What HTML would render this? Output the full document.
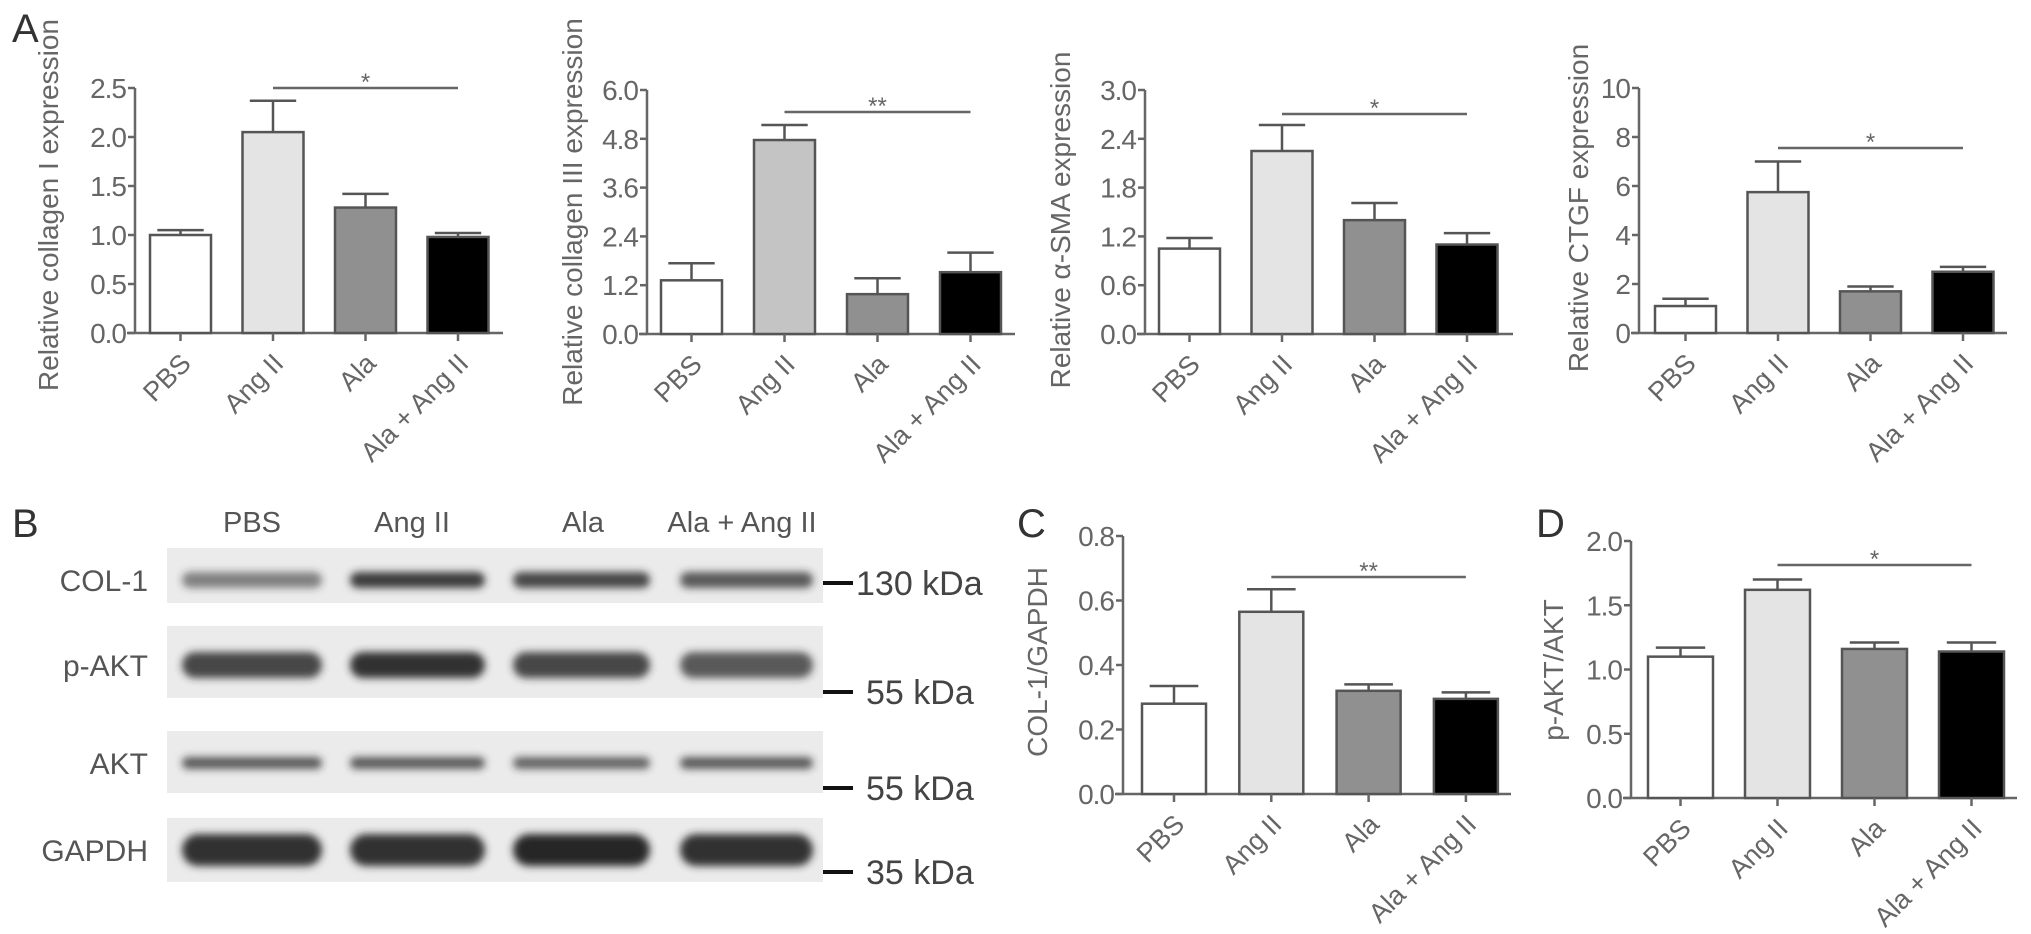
<!DOCTYPE html>
<html><head><meta charset="utf-8"><style>
html,body{margin:0;padding:0;background:#fff;}
svg{display:block;font-family:"Liberation Sans",Arial,sans-serif;}
</style></head><body>
<svg id="fig" width="2031" height="934" viewBox="0 0 2031 934" xmlns="http://www.w3.org/2000/svg">
<defs>
<filter id="blur" x="-20%" y="-80%" width="140%" height="260%"><feGaussianBlur stdDeviation="4"/></filter>
</defs>
<text x="12" y="42" font-size="40" fill="#333">A</text>
<text x="12" y="537" font-size="40" fill="#333">B</text>
<text x="1017" y="537" font-size="40" fill="#333">C</text>
<text x="1536" y="537" font-size="40" fill="#333">D</text>
<g id="blot"></g>
</svg>
<script>
const categories = ["PBS", "Ang II", "Ala", "Ala + Ang II"];
const col1Values = [1.0, 2.05, 1.28, 0.98];
const col1Errors = [0.05, 0.32, 0.14, 0.04];
const col1Ticks = ["0.0","0.5","1.0","1.5","2.0","2.5"];
const col3Values = [1.32, 4.77, 0.98, 1.52];
const col3Errors = [0.42, 0.37, 0.39, 0.48];
const col3Ticks = ["0.0","1.2","2.4","3.6","4.8","6.0"];
const smaValues = [1.05, 2.25, 1.40, 1.10];
const smaErrors = [0.13, 0.32, 0.21, 0.14];
const smaTicks = ["0.0","0.6","1.2","1.8","2.4","3.0"];
const ctgfValues = [1.1, 5.75, 1.7, 2.5];
const ctgfErrors = [0.3, 1.25, 0.2, 0.2];
const ctgfTicks = ["0","2","4","6","8","10"];
const cValues = [0.28, 0.565, 0.32, 0.295];
const cErrors = [0.055, 0.07, 0.02, 0.02];
const cTicks = ["0.0","0.2","0.4","0.6","0.8"];
const dValues = [1.10, 1.62, 1.16, 1.14];
const dErrors = [0.07, 0.08, 0.05, 0.07];
const dTicks = ["0.0","0.5","1.0","1.5","2.0"];
const blotRows = ["COL-1", "p-AKT", "AKT", "GAPDH"];
const kdaLabels = ["130 kDa", "55 kDa", "55 kDa", "35 kDa"];

const NS = "http://www.w3.org/2000/svg";
const svg = document.getElementById("fig");
function el(tag, attrs, parent, text){
  const e = document.createElementNS(NS, tag);
  for (const k in attrs) e.setAttribute(k, attrs[k]);
  if (text !== undefined) e.textContent = text;
  (parent || svg).appendChild(e);
  return e;
}
const fills = ["#ffffff", "#e4e4e4", "#909090", "#000000"];
const GRAY = "#666";

function chart(o){
  const g = el("g", {}, svg);
  
  
  const max = parseFloat(o.ticks[o.ticks.length-1]);
  const y = v => o.y0 - (v / max) * (o.y0 - o.yTop);
  const cx = i => o.x0 + o.first + o.bw/2 + i*o.step;
  const ya = el("line", {x1:o.x0, y1:o.y0, x2:o.x0, y2:o.yTop, stroke:GRAY, "stroke-width":2.5}, g);
  
  
  const xa = el("line", {x1:o.x0-8, y1:o.y0, x2:o.x0+o.xLen, y2:o.y0, stroke:GRAY, "stroke-width":2.5}, g);
  
  
  o.ticks.forEach(t => {
    const v = parseFloat(t), yy = y(v);
    el("line", {x1:o.x0-7, y1:yy, x2:o.x0, y2:yy, stroke:GRAY, "stroke-width":2.5}, g);
    const tl = el("text", {x:o.x0-9, y:yy+10, "text-anchor":"end", "font-size":28, fill:GRAY, "letter-spacing":"-1"}, g, t);
    
    
  });
  const tt = el("text", {transform:`translate(${o.titleX},${o.titleY}) rotate(-90)`, "text-anchor":"middle", "font-size":o.titleSize||28, fill:GRAY}, g, o.title);
  
  
  o.values.forEach((v, i) => {
    const x = o.x0 + o.first + i*o.step;
    const fill = (i === 1 && o.angFill) ? o.angFill : fills[i];
    const top = y(v), et = y(v + o.errors[i]);
    const eb = el("line", {x1:cx(i), y1:top, x2:cx(i), y2:et, stroke:"#555", "stroke-width":2.5}, g);
    
    
    el("line", {x1:cx(i)-o.bw*0.38, y1:et, x2:cx(i)+o.bw*0.38, y2:et, stroke:"#555", "stroke-width":2.5}, g);
    const r = el("rect", {x:x, y:top, width:o.bw, height:o.y0-top, fill:fill, stroke:"#555", "stroke-width":2.5}, g);
    
    
    el("line", {x1:cx(i), y1:o.y0, x2:cx(i), y2:o.y0+8, stroke:GRAY, "stroke-width":2.5}, g);
    const lx = cx(i) + 12, ly = o.y0 + 32;
    const cl = el("text", {transform:`translate(${lx},${ly}) rotate(-45)`, "text-anchor":"end", "font-size":27, fill:GRAY}, g, categories[i]);
    
    
  });
  const sl = el("line", {x1:cx(1), y1:o.sigY, x2:cx(3), y2:o.sigY, stroke:GRAY, "stroke-width":2.5}, g);
  
  
  const st = el("text", {x:(cx(1)+cx(3))/2, y:o.sigY+2, "text-anchor":"middle", "font-size":24, fill:GRAY}, g, o.sig);
  
  
}

chart({name:"chart-collagen-i", x0:135, y0:333, yTop:88, first:15, bw:61, step:92.5, xLen:368, values:col1Values, errors:col1Errors, ticks:col1Ticks, title:"Relative collagen I expression", titleX:58, titleY:205, sigY:88, sig:"*"});
chart({name:"chart-collagen-iii", x0:647, y0:334, yTop:90, first:14, bw:61, step:93, xLen:368, values:col3Values, errors:col3Errors, ticks:col3Ticks, title:"Relative collagen III expression", titleX:582, titleY:212, sigY:112, sig:"**", angFill:"#c4c4c4"});
chart({name:"chart-alpha-sma", x0:1145, y0:334, yTop:90, first:14, bw:61, step:92.5, xLen:368, values:smaValues, errors:smaErrors, ticks:smaTicks, title:"Relative α-SMA expression", titleX:1070, titleY:220, sigY:114, sig:"*"});
chart({name:"chart-ctgf", x0:1639, y0:333, yTop:88, first:16, bw:61, step:92.5, xLen:368, values:ctgfValues, errors:ctgfErrors, ticks:ctgfTicks, title:"Relative CTGF expression", titleX:1588, titleY:208, sigY:148, sig:"*"});
chart({name:"chart-col1-gapdh", x0:1123, y0:794, yTop:536, first:19, bw:64, step:97.3, xLen:388, values:cValues, errors:cErrors, ticks:cTicks, title:"COL-1/GAPDH", titleX:1047, titleY:662, sigY:577, sig:"**"});
chart({name:"chart-pakt-akt", x0:1631, y0:798, yTop:541, first:17, bw:65, step:97, xLen:386, values:dValues, errors:dErrors, ticks:dTicks, title:"p-AKT/AKT", titleX:1563, titleY:670, sigY:565, sig:"*"});

const blot = document.getElementById("blot");
const laneNames = categories;
const laneCenters = [252, 412, 583, 742];
laneNames.forEach((n, i) => {
  const t = el("text", {x:laneCenters[i], y:532, "text-anchor":"middle", "font-size":29, fill:"#555"}, blot, n);
  
  
});
const strips = [[548,603],[626,698],[731,793],[818,882]];
const bandY = [580, 665, 763, 850];
const bandH = [16, 26, 12, 32];
const bandDark = [
  [0.55, 0.9, 0.85, 0.75],
  [0.85, 0.95, 0.85, 0.75],
  [0.75, 0.75, 0.7, 0.75],
  [0.95, 0.95, 1.0, 0.95]
];
const bandX = [[182,322],[350,485],[513,650],[680,813]];
const kdaY = [583, 692, 788, 872];
blotRows.forEach((name, r) => {
  const s = el("rect", {x:167, y:strips[r][0], width:656, height:strips[r][1]-strips[r][0], fill:"#ebebeb"}, blot);
  
  
  bandX.forEach((bx, i) => {
    const d = bandDark[r][i];
    const b = el("rect", {x:bx[0], y:bandY[r]-bandH[r]/2, width:bx[1]-bx[0], height:bandH[r], rx:bandH[r]/2, fill:`rgba(40,40,40,${d})`, filter:"url(#blur)"}, blot);
    
    
  });
  const lbl = el("text", {x:148, y:bandY[r]+11, "text-anchor":"end", "font-size":30, fill:"#555"}, blot, name);
  
  
  el("line", {x1:823, y1:kdaY[r], x2:853, y2:kdaY[r], stroke:"#111", "stroke-width":4}, blot);
  const k = el("text", {x: r===0 ? 856 : 866, y:kdaY[r]+12, "font-size":34, fill:"#444"}, blot, kdaLabels[r]);
  
  
});
</script>
</body></html>
